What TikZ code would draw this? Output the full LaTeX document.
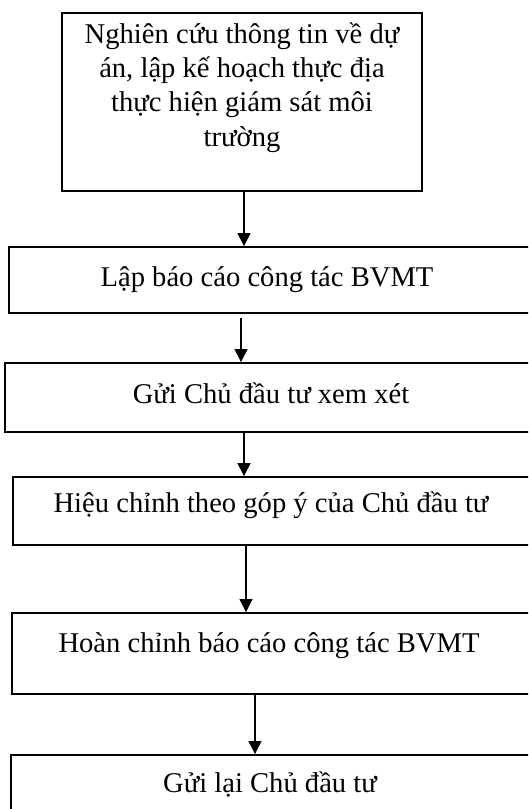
\documentclass[tikz,border=0pt]{standalone}
\usepackage{fontspec}
\setmainfont{Liberation Serif}
\usetikzlibrary{arrows.meta}
\tikzset{
  box/.style={draw=black, line width=1.9pt, rectangle, inner sep=0pt},
  lbl/.style={anchor=base, inner sep=0pt, font=\fontsize{28.6}{34.3}\selectfont, align=center},
  arr/.style={draw=black, line width=1.3pt, -{Triangle[width=13pt,length=13pt]}}
}
\begin{document}
\begin{tikzpicture}[x=1pt,y=-1pt]
\useasboundingbox (0,0) rectangle (528,809);
\clip (0,0) rectangle (528,809);
\fill[white] (0,0) rectangle (528,809);
% boxes
\node[box, minimum width=360pt, minimum height=178pt] (b1) at (242,102) {};
\node[box, minimum width=526pt, minimum height=66pt] (b2) at (272,280) {};
\node[box, minimum width=530pt, minimum height=69pt] (b3) at (270,397.5) {};
\node[box, minimum width=522pt, minimum height=68pt] (b4) at (274,511) {};
\node[box, minimum width=523pt, minimum height=81pt] (b5) at (273.5,653.5) {};
\node[box, minimum width=524pt, minimum height=80pt] (b6) at (273,795) {};
% texts
\node[lbl] (t1) at (242,146) {Nghiên cứu thông tin về dự\\án, lập kế hoạch thực địa\\thực hiện giám sát môi\\trường};
\node[lbl] (t2) at (267,286) {Lập báo cáo công tác BVMT};
\node[lbl] (t3) at (271,403) {Gửi Chủ đầu tư xem xét};
\node[lbl] (t4) at (271,512) {Hiệu chỉnh theo góp ý của Chủ đầu tư};
\node[lbl] (t5) at (269,652) {Hoàn chỉnh báo cáo công tác BVMT};
\node[lbl] (t6) at (270,792) {Gửi lại Chủ đầu tư};
% arrows
\coordinate (s1) at (244,191);
\coordinate (s2) at (241,318);
\coordinate (s3) at (244,432);
\coordinate (s4) at (246,545);
\coordinate (s5) at (255,694);
\draw[arr] (s1) -- (s1 |- b2.north);
\draw[arr] (s2) -- (s2 |- b3.north);
\draw[arr] (s3) -- (s3 |- b4.north);
\draw[arr] (s4) -- (s4 |- b5.north);
\draw[arr] (s5) -- (s5 |- b6.north);
\end{tikzpicture}
\end{document}
